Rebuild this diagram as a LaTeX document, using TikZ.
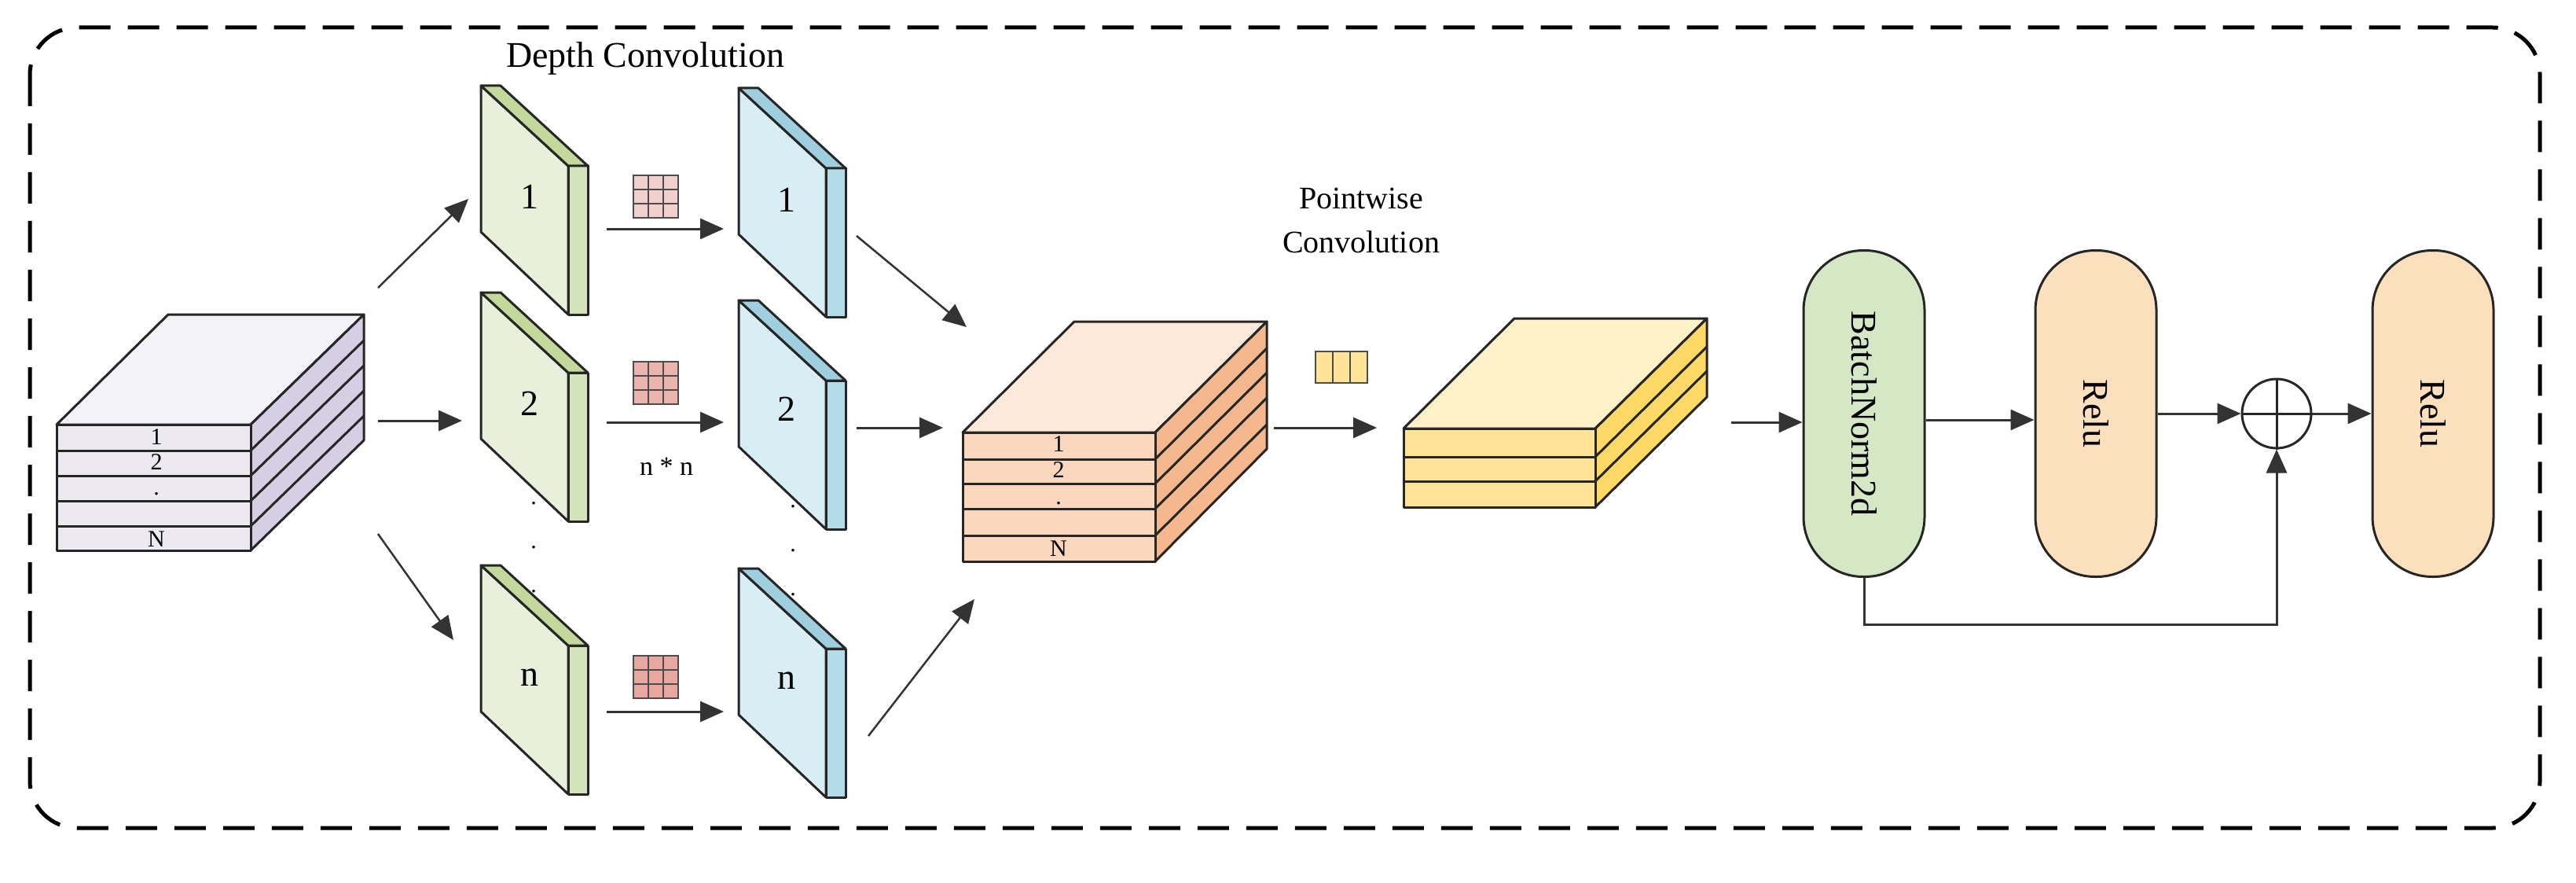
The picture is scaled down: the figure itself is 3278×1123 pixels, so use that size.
\documentclass[tikz,border=0pt]{standalone}
\usepackage{fontspec}
\setmainfont{Liberation Serif}
\usetikzlibrary{arrows.meta}
\definecolor{inTop}{HTML}{F3F2F8}\definecolor{inFr}{HTML}{ECE9F0}\definecolor{inSd}{HTML}{D6CFE3}
\definecolor{gFr}{HTML}{E8EFDB}\definecolor{gSd}{HTML}{D5E3BC}\definecolor{gTp}{HTML}{C5D89C}
\definecolor{bFr}{HTML}{D9EEF4}\definecolor{bSd}{HTML}{B4DCE8}\definecolor{bTp}{HTML}{9FCFDF}
\definecolor{oTop}{HTML}{FDE9DA}\definecolor{oFr}{HTML}{FAD7BD}\definecolor{oSd}{HTML}{F5B88E}
\definecolor{yTop}{HTML}{FFF2C8}\definecolor{yFr}{HTML}{FFE397}\definecolor{ySd}{HTML}{FFD966}
\definecolor{bnC}{HTML}{D5E8C6}\definecolor{reC}{HTML}{FCE0BE}
\definecolor{kA}{HTML}{F2D0CC}\definecolor{kB}{HTML}{E8A8A0}
\newcommand{\plate}[5]{%
 \filldraw[fill=#3,edge] (#1,#2)--++(111,102)--++(0,189)--++(-111,-105)--cycle;
 \filldraw[fill=#4,edge] (#1+111,#2+102)--++(25,0)--++(0,189)--++(-25,0)--cycle;
 \filldraw[fill=#5,edge] (#1,#2)--++(25,0)--++(111,102)--++(-25,0)--cycle;}
\newcommand{\kernel}[3]{%
 \filldraw[fill=#3,draw=black!70,line width=2pt] (#1,#2) rectangle ++(57,54);
 \draw[black!70,line width=2pt] (#1+19,#2)--++(0,54) (#1+38,#2)--++(0,54) (#1,#2+18)--++(57,0) (#1,#2+36)--++(57,0);}
\tikzset{edge/.style={draw=black!85,line width=3pt,line join=round},
 arr/.style={line width=3pt,draw=black!80,-{Triangle[length=30pt,width=26pt]}},
 thin arr/.style={line width=2.5pt,draw=black!80,-{Triangle[length=30pt,width=26pt]}},
 lbl/.style={font=\fontsize{46}{50}\selectfont,inner sep=0pt},
 slbl/.style={font=\fontsize{30}{32}\selectfont,inner sep=0pt},
 pill/.style={draw=black!85,line width=3pt,rounded corners=76pt,minimum width=154pt,minimum height=415pt,inner sep=0pt}}
\begin{document}
\begin{tikzpicture}[x=1pt,y=-1pt]
\useasboundingbox (0,0) rectangle (3278,1123);
\draw[line width=5pt,dash pattern=on 40pt off 22pt,rounded corners=60pt] (38,35) rectangle (3232,1053);
\node[lbl] (dc) at (821,74) {Depth Convolution};
% input cuboid
\filldraw[fill=inTop,edge] (72,540)--(214,400)--(463,400)--(319,540)--cycle;
\filldraw[fill=inSd,edge] (319,540)--(463,400)--(463,560)--(319,700)--cycle;
\filldraw[fill=inFr,edge] (72,540) rectangle (319,700);
\foreach \y in {573,605,637,669}{\draw[edge] (72,\y)--(319,\y); \draw[edge] (319,\y)--++(144,-140);}
\node[slbl] (i1) at (199,556) {1};
\node[slbl] (i2) at (199,588) {2};
\node[slbl] (i3) at (199,628) {.};
\node[slbl] (i4) at (199,686) {N};
% plates
\plate{612}{109}{gFr}{gSd}{gTp}
\plate{612}{372}{gFr}{gSd}{gTp}
\plate{612}{719}{gFr}{gSd}{gTp}
\plate{940}{112}{bFr}{bSd}{bTp}
\plate{940}{382}{bFr}{bSd}{bTp}
\plate{940}{723}{bFr}{bSd}{bTp}
\node[lbl] (g1) at (674,250) {1};
\node[lbl] (g2) at (674,513) {2};
\node[lbl] (g3) at (674,862) {n};
\node[lbl] (b1) at (1001,254) {1};
\node[lbl] (b2) at (1001,520) {2};
\node[lbl] (b3) at (1001,866) {n};
\foreach \y in {640,696,752}{\node[slbl] at (679,\y) {.}; \node[slbl] at (1009,\y+4) {.};}
% kernels
\kernel{806}{223}{kA}
\kernel{806}{460}{kB!70!kA}
\kernel{806}{834}{kB}
\node[font=\fontsize{34}{36}\selectfont,inner sep=0pt] (nn) at (848,593) {n * n};
% arrows depth
\coordinate (s1) at (481,366); \coordinate (e1) at (596,253);
\coordinate (s2) at (481,535); \coordinate (e2) at (588,535);
\coordinate (s3) at (481,679); \coordinate (e3) at (577,814);
\draw[thin arr] (s1)--(e1); \draw[arr] (s2)--(e2); \draw[thin arr] (s3)--(e3);
\coordinate (k1a) at (772,291); \coordinate (k1b) at (921,291);
\coordinate (k2a) at (772,537); \coordinate (k2b) at (921,537);
\coordinate (k3a) at (772,905); \coordinate (k3b) at (921,905);
\draw[arr] (k1a)--(k1b); \draw[arr] (k2a)--(k2b); \draw[arr] (k3a)--(k3b);
% arrows to orange
\coordinate (t1a) at (1090,300); \coordinate (t1b) at (1230,416);
\coordinate (t2a) at (1090,544); \coordinate (t2b) at (1200,544);
\coordinate (t3a) at (1105,936); \coordinate (t3b) at (1240,762);
\draw[thin arr] (t1a)--(t1b); \draw[arr] (t2a)--(t2b); \draw[thin arr] (t3a)--(t3b);
% orange cuboid
\filldraw[fill=oTop,edge] (1225,550)--(1367,409)--(1612,409)--(1470,550)--cycle;
\filldraw[fill=oSd,edge] (1470,550)--(1612,409)--(1612,571)--(1470,714)--cycle;
\filldraw[fill=oFr,edge] (1225,550) rectangle (1470,714);
\foreach \y in {584,615,647,681}{\draw[edge] (1225,\y)--(1470,\y); \draw[edge] (1470,\y)--++(142,-141);}
\node[slbl] (o1) at (1347,565) {1};
\node[slbl] (o2) at (1347,598) {2};
\node[slbl] (o3) at (1347,640) {.};
\node[slbl] (o4) at (1347,698) {N};
\node[lbl,font=\fontsize{40}{56}\selectfont,align=center] (pw) at (1732,280) {Pointwise\\Convolution};
% pointwise kernel
\filldraw[fill=yFr,draw=black!70,line width=2pt] (1674,447) rectangle (1740,487);
\draw[black!70,line width=2pt] (1696,447)--(1696,487) (1718,447)--(1718,487);
\coordinate (pa) at (1621,544); \coordinate (pb) at (1752,544);
\draw[arr] (pa)--(pb);
% yellow cuboid
\filldraw[fill=yTop,edge] (1786,545)--(1927,405)--(2172,405)--(2030,545)--cycle;
\filldraw[fill=ySd,edge] (2030,545)--(2172,405)--(2172,505)--(2030,645)--cycle;
\filldraw[fill=yFr,edge] (1786,545) rectangle (2030,645);
\foreach \y in {581,612}{\draw[edge] (1786,\y)--(2030,\y); \draw[edge] (2030,\y)--++(142,-140);}
% right part
\node[pill,fill=bnC] (bn) at (2372,526) {};
\node[lbl,rotate=-90] at (bn) {BatchNorm2d};
\node[pill,fill=reC] (r1) at (2667,526) {};
\node[lbl,rotate=-90] at (r1) {Relu};
\node[pill,fill=reC] (r2) at (3096,526) {};
\node[lbl,rotate=-90] at (r2) {Relu};
\node[circle,draw=black!85,line width=3pt,minimum size=88pt,inner sep=0pt] (add) at (2897,526) {};
\draw[line width=3pt,black!85] (add.north)--(add.south) (add.west)--(add.east);
\coordinate (yin) at (2203,537);
\draw[arr] (yin)--(bn.west|-yin);
\draw[arr] (bn.east|-0,534)--(r1.west|-0,534);
\draw[arr] (r1.east|-add)--(add.west);
\draw[arr] (add.east)--(r2.west|-add);
\draw[line width=3pt,draw=black!80,-{Triangle[length=30pt,width=26pt]}] (bn.south)--(2372,794)-|(add.south);
\end{tikzpicture}
\end{document}
